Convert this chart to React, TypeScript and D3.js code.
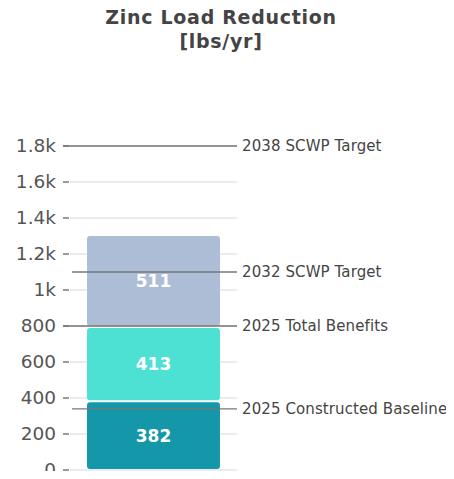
import * as d3 from "d3";
import React from "react";

const segmentNames = ["Constructed", "Additional", "Planned"];
const segmentValues = [382, 413, 511];
const segmentColors = ["#1497a8", "#4ce1d2", "#adbdd6"];

const targetLabels = [
  "2038 SCWP Target",
  "2032 SCWP Target",
  "2025 Total Benefits",
  "2025 Constructed Baseline",
];
const targetValues = [1800, 1100, 800, 340];
const targetFromAxis = [true, false, true, false];

const tickValues = [0, 200, 400, 600, 800, 1000, 1200, 1400, 1600, 1800];

const App = (): React.ReactElement => {
  const width = 454;
  const margin = { top: 146, left: 63, right: 217 };
  const plotRight = width - margin.right;
  const zeroY = 470;

  const y = d3.scaleLinear().domain([0, 1800]).range([zeroY, margin.top]);

  const x = d3
    .scaleBand()
    .domain(["bar"])
    .range([margin.left + 7, plotRight])
    .paddingInner(0)
    .paddingOuter(0.128);

  const fmt = (v: number) =>
    v >= 1000 ? `${d3.format("~")(v / 1000)}k` : `${v}`;

  const stacks = segmentValues.map((v, i) => {
    const start = d3.sum(segmentValues.slice(0, i));
    return { name: segmentNames[i], start, end: start + v, value: v, color: segmentColors[i] };
  });

  const font = "'DejaVu Sans', 'Noto Sans', sans-serif";

  return (
    <div style={{ margin: -8 }}>
      <svg width={width} height={479} style={{ display: "block", fontFamily: font }}>
        <text x={221} y={24} textAnchor="middle" fontSize={19} fontWeight={700} letterSpacing={0.7} fill="#444">
          Zinc Load Reduction
        </text>
        <text x={221} y={48} textAnchor="middle" fontSize={19} fontWeight={700} letterSpacing={0.7} fill="#444">
          [lbs/yr]
        </text>

        {/* grid + ticks */}
        {tickValues.map((t) => (
          <g key={t} transform={`translate(0,${y(t)})`}>
            <line x1={margin.left + 7} x2={plotRight} stroke="#e6e6e6" strokeWidth={1.5} />
            <line x1={margin.left} x2={margin.left + 6} stroke="#555" strokeWidth={1.2} />
            <text
              x={margin.left - 7}
              dy="0.35em"
              textAnchor="end"
              fontSize={18.5}
              fill="#555"
            >
              {fmt(t)}
            </text>
          </g>
        ))}

        {/* stacked bar */}
        {stacks.map((s) => (
          <g key={s.name}>
            <rect
              x={x("bar") as number}
              width={x.bandwidth()}
              y={y(s.end) + 1}
              height={y(s.start) - y(s.end) - 2}
              rx={3}
              fill={s.color}
            />
            <text
              x={(x("bar") as number) + x.bandwidth() / 2}
              y={(y(s.start) + y(s.end)) / 2}
              dy="0.35em"
              textAnchor="middle"
              fontSize={17}
              fontWeight={700}
              fill="#fff"
            >
              {s.value}
            </text>
          </g>
        ))}

        {/* target lines */}
        {targetValues.map((v, i) => (
          <g key={targetLabels[i]} transform={`translate(0,${y(v)})`}>
            <line
              x1={targetFromAxis[i] ? margin.left : margin.left + 9}
              x2={plotRight}
              stroke="#777"
              strokeWidth={1.3}
            />
            <text
              x={plotRight + 5}
              dy="0.35em"
              fontSize={15}
              letterSpacing={0.1}
              fill="#444"
            >
              {targetLabels[i]}
            </text>
          </g>
        ))}
      </svg>
    </div>
  );
};

export default App;
